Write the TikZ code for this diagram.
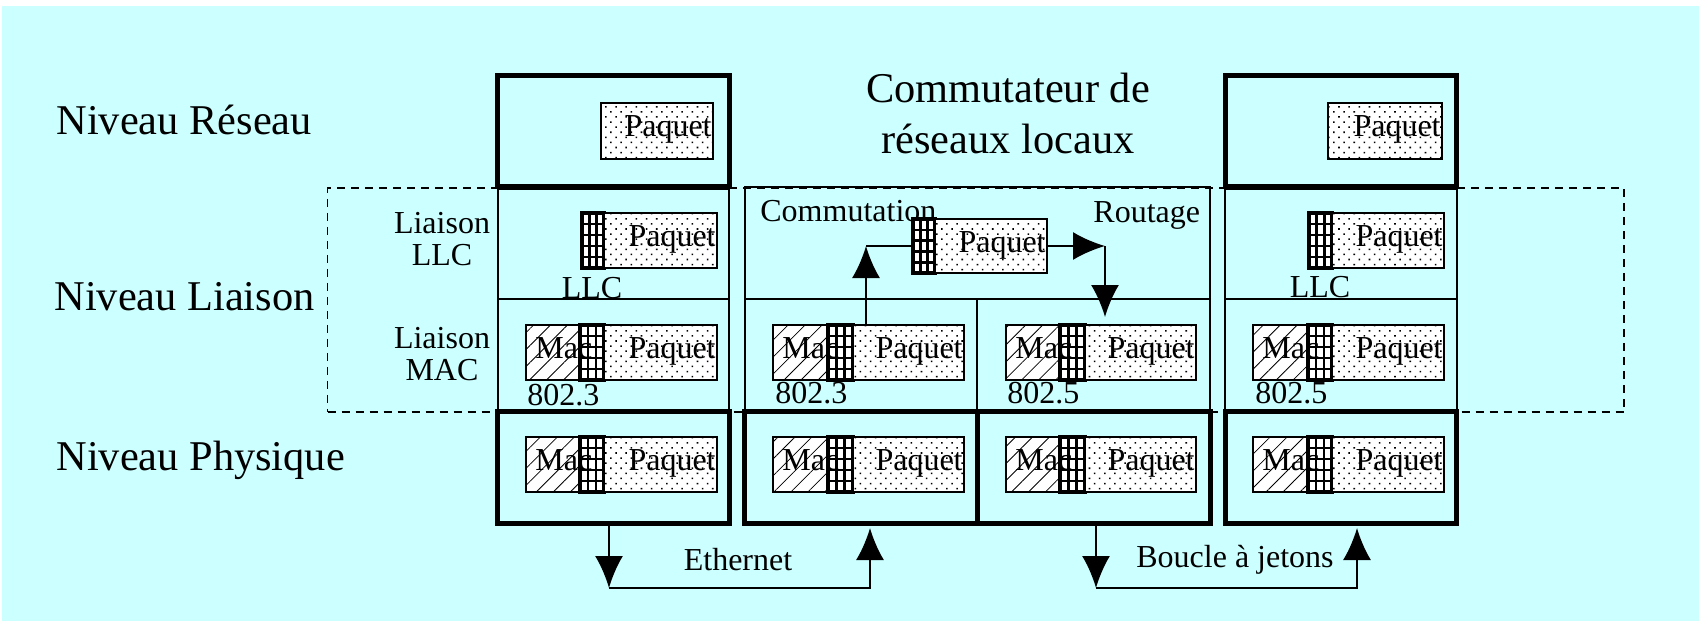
\documentclass[tikz,border=0pt]{standalone}
\usepackage{fontspec}
\setmainfont{Liberation Serif}
\usetikzlibrary{arrows.meta,patterns.meta,fit,calc}
\definecolor{bgcyan}{RGB}{204,255,255}
\tikzset{
  thinbox/.style={draw, line width=1pt, inner sep=0pt},
  thickbox/.style={draw, line width=2.5pt, inner sep=0pt},
  dashbox/.style={draw, line width=0.75pt, dash pattern=on 4pt off 3pt, inner sep=0pt},
  paqbox/.style={draw, line width=1pt, inner sep=0pt, preaction={fill=white},
    pattern={Dots[radius=0.55pt,distance=3.6pt,angle=45]}},
  macbox/.style={draw, line width=1pt, inner sep=0pt, preaction={fill=white},
    pattern={Lines[angle=45,distance=6pt,line width=0.4pt]}},
  gridbox/.style={draw, line width=1.6pt, inner sep=0pt, fill=white,
    path picture={
      \foreach \f in {0.3333,0.6667}
        \draw[line width=1.3pt] ($(path picture bounding box.south west)!\f!(path picture bounding box.south east)$) -- ($(path picture bounding box.north west)!\f!(path picture bounding box.north east)$);
      \foreach \f in {0.2,0.4,0.6,0.8}
        \draw[line width=1.3pt] ($(path picture bounding box.south west)!\f!(path picture bounding box.north west)$) -- ($(path picture bounding box.south east)!\f!(path picture bounding box.north east)$);
    }},
  lbl/.style={inner sep=0pt, font=\fontsize{16}{19}\selectfont},
  biglbl/.style={inner sep=0pt, font=\fontsize{21.2}{25}\selectfont},
  conn/.style={line width=1pt},
  tip/.style={-{Latex[length=16pt,width=14pt]}},
}
% packet with Mac header: name, xmac, xgrid, xpaq, xend, ytop, ybot
\newcommand\macpk[7]{%
  \node[macbox, fit={(#2,#6)(#3,#7)}] (#1m) {};
  \node[gridbox, fit={(#3,#6)(#4,#7)}] (#1g) {};
  \node[paqbox, fit={(#4,#6)(#5,#7)}] (#1p) {};
  \node[lbl, anchor=base west] (#1mt) at (#2+9,#6+33) {Mac};
  \node[lbl, anchor=base east] (#1pt) at (#5-1,#6+33) {Paquet};
}
% packet with LLC header: name, xgrid, xpaq, xend, ytop, ybot
\newcommand\llcpk[6]{%
  \node[gridbox, fit={(#2,#5)(#3,#6)}] (#1g) {};
  \node[paqbox, fit={(#3,#5)(#4,#6)}] (#1p) {};
  \node[lbl, anchor=base east] (#1pt) at (#4-1,#5+33) {Paquet};
}
% bare packet: name, x1, x2, ytop, ybot
\newcommand\barepk[5]{%
  \node[paqbox, fit={(#2,#4)(#3,#5)}] (#1p) {};
  \node[lbl, anchor=base east] (#1pt) at (#3-1,#4+33) {Paquet};
}
\begin{document}
\begin{tikzpicture}[x=0.5pt,y=-0.5pt]
\useasboundingbox (0,0) rectangle (1699,621);
\fill[bgcyan] (2,6) rectangle (1699,621);

% dashed link-level zone
\node[dashbox, fit={(327.5,188)(1624,412)}] (zone) {};

% left station
\node[thickbox, fit={(497.5,75.5)(729,186.5)}] (LRes) {};
\node[thinbox, fit={(497.5,189)(729,299)}] (LLLC) {};
\node[thinbox, fit={(497.5,299)(729,411)}] (LMAC) {};
\node[thickbox, fit={(497.5,411.5)(729,523.5)}] (LPh) {};

% switch
\node[thinbox, fit={(744.5,187)(1210,299)}] (MLLC) {};
\node[thinbox, fit={(744.5,299)(977,411)}] (MMACa) {};
\node[thinbox, fit={(977,299)(1210,411)}] (MMACb) {};
\node[thickbox, fit={(744.5,411.5)(977,523.5)}] (MPha) {};
\node[thickbox, fit={(977,411.5)(1210.5,523.5)}] (MPhb) {};

% right station
\node[thickbox, fit={(1225,75.5)(1456.5,186.5)}] (RRes) {};
\node[thinbox, fit={(1225,189)(1457,299)}] (RLLC) {};
\node[thinbox, fit={(1225,299)(1457,411)}] (RMAC) {};
\node[thickbox, fit={(1225,411.5)(1456.5,523.5)}] (RPh) {};

% packets, left
\barepk{LR}{601}{713}{103}{159}
\llcpk{LL}{582}{604}{717}{213}{268}
\macpk{LM}{526}{580}{604}{717}{325}{380}
\macpk{LP}{526}{580}{604}{717}{437}{492}

% packets, switch
\llcpk{T}{913}{935}{1047}{219}{273}
\macpk{MA}{773}{828}{853}{964}{325}{380}
\macpk{MB}{1006}{1060}{1085}{1196}{325}{380}
\macpk{PA}{773}{828}{853}{964}{437}{492}
\macpk{PB}{1006}{1060}{1085}{1196}{437}{492}

% packets, right
\barepk{RR}{1328}{1442}{103}{159}
\llcpk{RL}{1309}{1332}{1444}{213}{268}
\macpk{RM}{1253}{1308}{1332}{1444}{325}{380}
\macpk{RP}{1253}{1308}{1332}{1444}{437}{492}

% labels
\node[biglbl, anchor=base west] (nres) at (56,134) {Niveau Réseau};
\node[biglbl, anchor=base west] (nlia) at (54,310) {Niveau Liaison};
\node[biglbl, anchor=base west] (nphy) at (56,470) {Niveau Physique};
\node[biglbl, anchor=base] (titleA) at (1008,102) {Commutateur de};
\node[biglbl, anchor=base] (titleB) at (1008,153) {réseaux locaux};
\node[lbl, anchor=base] (llcA) at (442,233) {Liaison};
\node[lbl, anchor=base] (llcB) at (442,265) {LLC};
\node[lbl, anchor=base] (macA) at (442,348) {Liaison};
\node[lbl, anchor=base] (macB) at (442,380) {MAC};
\node[lbl, anchor=base] (llcL) at (592,298) {LLC};
\node[lbl, anchor=base] (llcR) at (1320,297) {LLC};
\node[lbl, anchor=base west] (e1) at (527,405) {802.3};
\node[lbl, anchor=base west] (e2) at (775,403) {802.3};
\node[lbl, anchor=base west] (e3) at (1007,403) {802.5};
\node[lbl, anchor=base west] (e4) at (1255,403) {802.5};
\node[lbl, anchor=base west] (comm) at (760,221) {Commutation};
\node[lbl, anchor=base west] (rout) at (1093,222) {Routage};
\node[lbl, anchor=base] (eth) at (738,570) {Ethernet};
\node[lbl, anchor=base] (tok) at (1235,567) {Boucle à jetons};

% switch connectors
\coordinate (c1) at (866,246);
\coordinate (c2) at (1105,246);
\draw[conn,tip] (MAp.north -| c1) -- (c1);
\draw[conn] (c1) -- (Tg.west);
\draw[conn,tip] (Tp.east) -- (c2);
\draw[conn,tip] (c2) -- ($(MBp.north -| c2)+(0,-7)$);

% media connectors
\coordinate (b1) at (609,588);
\coordinate (b2) at (870,588);
\coordinate (b3) at (1096,588);
\coordinate (b4) at (1357,588);
\draw[conn,tip] (LPh.south -| b1) -- (b1);
\draw[conn,tip] (b1) -- (b2) -- ($(MPha.south -| b2)+(0,2)$);
\draw[conn,tip] (MPhb.south -| b3) -- (b3);
\draw[conn,tip] (b3) -- (b4) -- ($(RPh.south -| b4)+(0,2)$);
\end{tikzpicture}
\end{document}
